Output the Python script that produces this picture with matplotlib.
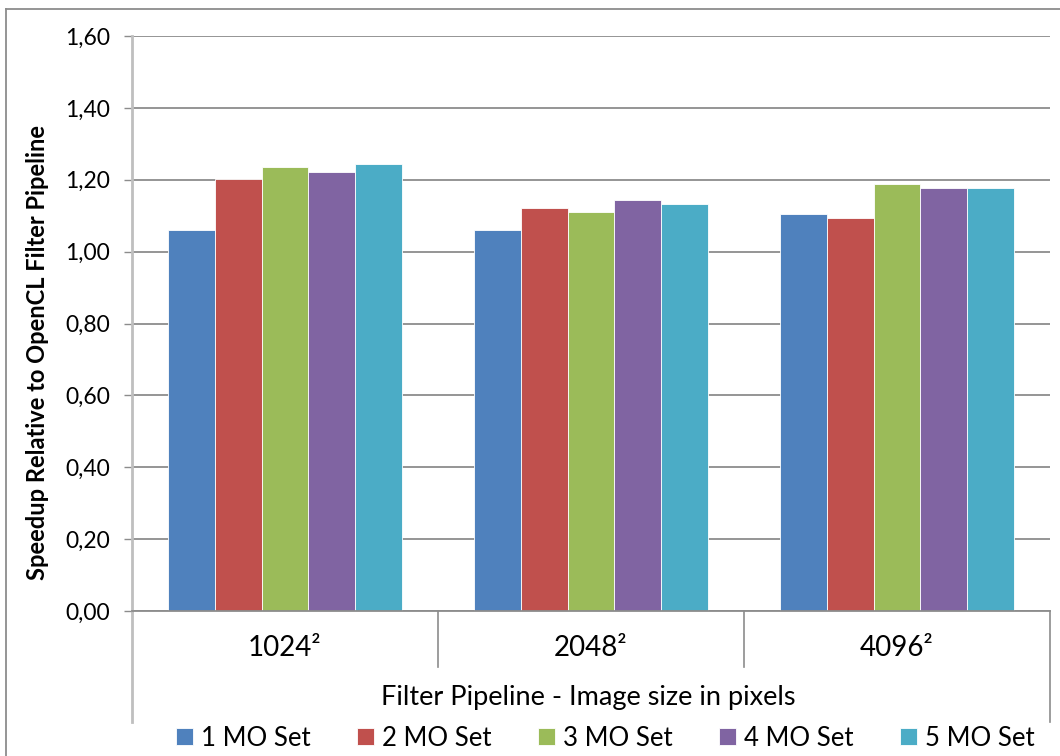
import matplotlib
matplotlib.use("Agg")
import matplotlib.pyplot as plt
from matplotlib.lines import Line2D
import numpy as np

plt.rcParams['font.family'] = ['Lato', 'DejaVu Sans']

categories = ["1024²", "2048²", "4096²"]
series_names = ["1 MO Set", "2 MO Set", "3 MO Set", "4 MO Set", "5 MO Set"]
mo1 = [1.061, 1.060, 1.105]
mo2 = [1.202, 1.121, 1.093]
mo3 = [1.235, 1.110, 1.188]
mo4 = [1.221, 1.145, 1.178]
mo5 = [1.243, 1.132, 1.178]
series_values = [mo1, mo2, mo3, mo4, mo5]
colors = ["#4F81BD", "#C0504D", "#9BBB59", "#8064A2", "#4BACC6"]
yticks = [0.0, 0.2, 0.4, 0.6, 0.8, 1.0, 1.2, 1.4, 1.6]
ytick_labels = ["0,00", "0,20", "0,40", "0,60", "0,80", "1,00", "1,20", "1,40", "1,60"]

W, H = 1060, 756
fig = plt.figure(figsize=(W / 100, H / 100), dpi=100)
fig.patch.set_facecolor("white")

ax_l, ax_r, ax_t, ax_b = 132, 1050, 36, 611
ax = fig.add_axes([ax_l / W, 1 - ax_b / H, (ax_r - ax_l) / W, (ax_b - ax_t) / H])

x = np.arange(len(categories))
bw = 0.1535
for i, (name, vals, c) in enumerate(zip(series_names, series_values, colors)):
    ax.bar(x + (i - 2) * bw, vals, width=bw, color=c, label=name,
           edgecolor="white", linewidth=0.6, zorder=3)

ax.set_xlim(-0.5, 2.5)
ax.set_ylim(0, 1.6)
ax.set_yticks(yticks)
ax.set_yticklabels(ytick_labels, fontsize=16.5)
ax.yaxis.grid(True, color="#8c8c8c", linewidth=1.3, zorder=0)
ax.set_axisbelow(True)
ax.tick_params(axis="y", length=6, width=1, color="#8c8c8c", pad=10, labelcolor="black")
ax.set_xticks([])
for s in ["top", "right", "bottom"]:
    ax.spines[s].set_visible(False)
ax.spines["left"].set_color("#bfbfbf")
ax.spines["left"].set_linewidth(2)

# category "table" lines
axis_h = ax_b - ax_t
tr = ax.get_xaxis_transform()
y_div = -(667 - ax_b) / axis_h
y_ext = -(722 - ax_b) / axis_h
ax.plot([-0.5, 2.5], [0, 0], transform=tr, color="#8c8c8c", lw=1.3, clip_on=False, zorder=4)
for xd in [0.5, 1.5]:
    ax.plot([xd, xd], [0, y_div], transform=tr, color="#8c8c8c", lw=1.2, clip_on=False)
ax.plot([-0.5, -0.5], [0, y_ext], transform=tr, color="#bfbfbf", lw=2, clip_on=False)
ax.plot([2.5, 2.5], [0, y_ext], transform=tr, color="#8c8c8c", lw=1.2, clip_on=False)

y_cat = -(648 - ax_b) / axis_h
for xi, cat in zip(x, categories):
    ax.text(xi, y_cat, cat, transform=tr, ha="center", va="center", fontsize=20)

fig.text(588 / W, 1 - 698 / H, "Filter Pipeline - Image size in pixels",
         ha="center", va="center", fontsize=19.5)
fig.text(38 / W, 1 - 352 / H, "Speedup Relative to OpenCL Filter Pipeline",
         ha="center", va="center", rotation=90, fontsize=17, fontweight="bold")

handles, labels = ax.get_legend_handles_labels()
leg = fig.legend(handles, labels, loc="center", bbox_to_anchor=(605 / W, 1 - 738 / H),
                 ncol=5, frameon=False, fontsize=18.5, handlelength=0.68, handleheight=0.68,
                 handletextpad=0.3, columnspacing=1.8, borderaxespad=0, borderpad=0)

# outer chart border (top and left visible)
fig.add_artist(Line2D([6 / W, 1.0], [1 - 9 / H, 1 - 9 / H], color="#8c8c8c", lw=1.3))
fig.add_artist(Line2D([6 / W, 6 / W], [0, 1 - 9 / H], color="#8c8c8c", lw=1.3))

fig.savefig("out.png", dpi=100)
